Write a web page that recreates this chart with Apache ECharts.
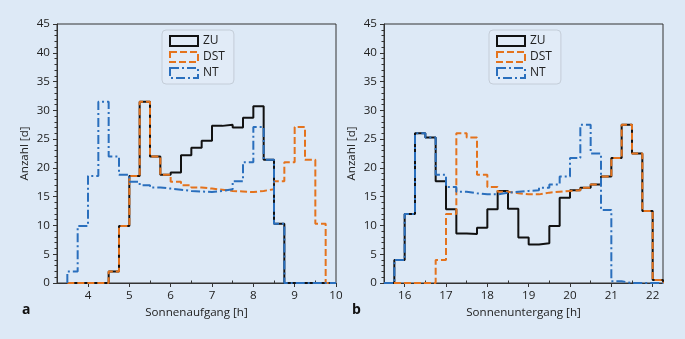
<!DOCTYPE html>
<html>
<head>
<meta charset="utf-8">
<script src="https://cdn.jsdelivr.net/npm/echarts@6/dist/echarts.min.js"></script>
<style>
  html, body { margin: 0; padding: 0; background: #dde9f6; }
  #chart { width: 685px; height: 339px; }
</style>
</head>
<body>
<div id="chart"></div>
<script>
var binWidth = 0.25

// a: Sonnenaufgang, bins from 3.5 h to 10 h
var aufgangStart = 3.5
var aufgangZU  = [0, 0, 0, 0, 2.0, 9.9, 18.6, 31.5, 22.0, 18.8, 19.2, 22.2, 23.5, 24.7, 27.3, 27.5, 27.0, 28.7, 30.7, 21.4, 10.3, 0, 0, 0, 0, 0]
var aufgangDST = [0, 0, 0, 0, 2.0, 9.9, 18.6, 31.5, 22.0, 18.8, 17.6, 17.0, 16.6, 16.4, 16.2, 16.0, 15.9, 15.8, 16.0, 16.3, 17.7, 21.0, 27.1, 21.4, 10.3, 0]
var aufgangNT  = [2.0, 9.9, 18.6, 31.5, 22.0, 18.8, 17.6, 17.0, 16.6, 16.4, 16.2, 16.0, 15.9, 15.8, 16.0, 16.3, 17.7, 21.0, 27.1, 21.4, 10.3, 0, 0, 0, 0, 0]

// b: Sonnenuntergang, bins from 15.5 h to 22.25 h
var untergangStart = 15.5
var untergangZU  = [0, 4.0, 12.0, 26.0, 25.3, 17.7, 12.8, 8.6, 8.5, 9.6, 12.8, 16.0, 12.9, 7.9, 6.7, 6.9, 9.9, 14.8, 16.1, 16.55, 17.1, 18.5, 21.7, 27.5, 22.5, 12.5, 0.5]
var untergangDST = [0, 0, 0, 0, 0, 4.0, 12.0, 26.0, 25.3, 18.8, 16.7, 15.85, 15.6, 15.4, 15.4, 15.7, 15.85, 16.0, 16.1, 16.55, 17.1, 18.5, 21.7, 27.5, 22.5, 12.5, 0.5]
var untergangNT  = [0, 4.0, 12.0, 26.0, 25.3, 18.8, 16.7, 15.85, 15.6, 15.4, 15.4, 15.7, 15.85, 16.0, 16.1, 16.55, 17.1, 18.5, 21.7, 27.5, 22.5, 12.7, 0.3, 0, 0, 0, 0]

var aufgangTicks = [4, 5, 6, 7, 8, 9, 10]
var aufgangMinor = [3.5, 4.5, 5.5, 6.5, 7.5, 8.5, 9.5]
var untergangTicks = [16, 17, 18, 19, 20, 21, 22]
var untergangMinor = [15.5, 16.5, 17.5, 18.5, 19.5, 20.5, 21.5]

var names = ['ZU', 'DST', 'NT']
var colors = { ZU: '#111111', DST: '#e4731d', NT: '#2a6fbd' }
var dashes = { ZU: 'solid', DST: [7, 3], NT: [9, 3, 2, 3] }

var font = 'Open Sans'
var axisColor = '#333'
var labelSize = 11.6

// outline of a step histogram: up at the first edge, down after the last bin
function stepPoints(start, counts) {
    var pts = [[start, 0]]
    counts.forEach(function (c, i) {
        pts.push([start + i * binWidth, c])
    })
    pts.push([start + counts.length * binWidth, 0])
    return pts
}

function histSeries(name, start, counts, axisIndex) {
    return {
        name: name,
        type: 'line',
        step: 'end',
        xAxisIndex: axisIndex * 2,
        yAxisIndex: axisIndex,
        showSymbol: false,
        symbol: 'none',
        silent: true,
        z: 2 + names.indexOf(name),
        itemStyle: { color: colors[name] },
        lineStyle: { color: colors[name], width: 2, type: dashes[name] },
        data: stepPoints(start, counts)
    }
}

function xAxes(gridIndex, min, max, ticks, minor, title) {
    return [{
        gridIndex: gridIndex,
        type: 'value',
        min: min,
        max: max,
        name: title,
        nameLocation: 'middle',
        nameGap: 23,
        nameTextStyle: { fontFamily: font, fontSize: labelSize, color: '#222' },
        splitLine: { show: false },
        axisLine: { show: true, onZero: false, lineStyle: { color: axisColor, width: 1 } },
        axisTick: { show: true, length: 4, customValues: ticks, lineStyle: { color: axisColor } },
        axisLabel: { customValues: ticks, margin: 7, fontFamily: font, fontSize: labelSize, color: '#222' }
    }, {
        gridIndex: gridIndex,
        type: 'value',
        min: min,
        max: max,
        splitLine: { show: false },
        axisLine: { show: false },
        axisTick: { show: true, length: 2.5, customValues: minor, lineStyle: { color: axisColor } },
        axisLabel: { show: false }
    }]
}

function yAxis(gridIndex) {
    return {
        gridIndex: gridIndex,
        type: 'value',
        min: 0,
        max: 45,
        interval: 5,
        name: 'Anzahl [d]',
        nameLocation: 'middle',
        nameGap: 26,
        nameTextStyle: { fontFamily: font, fontSize: labelSize, color: '#222' },
        splitLine: { show: false },
        axisLine: { show: true, lineStyle: { color: axisColor, width: 1 } },
        axisTick: { show: true, length: 4, lineStyle: { color: axisColor } },
        minorTick: { show: true, splitNumber: 5, length: 2.5, lineStyle: { color: axisColor } },
        axisLabel: { margin: 7, fontFamily: font, fontSize: labelSize, color: '#222' }
    }
}

function legendFor(left) {
    return {
        left: left,
        top: 30,
        orient: 'vertical',
        itemWidth: 28,
        itemHeight: 10,
        itemGap: 4,
        padding: [5, 9, 5, 7],
        borderColor: '#c4cdd8',
        borderWidth: 1,
        borderRadius: 4,
        backgroundColor: 'rgba(255,255,255,0.12)',
        textStyle: { fontFamily: font, fontSize: 12, color: '#222' },
        selectedMode: false,
        data: names.map(function (n) {
            return {
                name: n,
                icon: 'rect',
                itemStyle: { color: 'transparent', borderColor: colors[n], borderWidth: 2, borderType: dashes[n] }
            }
        })
    }
}

var chart = echarts.init(document.getElementById('chart'))

var option = {
    animation: false,
    backgroundColor: '#dde9f6',
    grid: [
        { left: 57, top: 24, width: 279, height: 259, show: true, borderColor: axisColor, borderWidth: 1, backgroundColor: 'transparent' },
        { left: 384, top: 24, width: 279, height: 259, show: true, borderColor: axisColor, borderWidth: 1, backgroundColor: 'transparent' }
    ],
    legend: [legendFor(162), legendFor(489)],
    xAxis: xAxes(0, 3.25, 10, aufgangTicks, aufgangMinor, 'Sonnenaufgang [h]')
        .concat(xAxes(1, 15.5, 22.25, untergangTicks, untergangMinor, 'Sonnenuntergang [h]')),
    yAxis: [yAxis(0), yAxis(1)],
    graphic: [
        { type: 'text', left: 22, top: 303, style: { text: 'a', fontFamily: font, fontWeight: 'bold', fontSize: 14, fill: '#111' } },
        { type: 'text', left: 352, top: 303, style: { text: 'b', fontFamily: font, fontWeight: 'bold', fontSize: 14, fill: '#111' } }
    ],
    series: [
        histSeries('ZU', aufgangStart, aufgangZU, 0),
        histSeries('DST', aufgangStart, aufgangDST, 0),
        histSeries('NT', aufgangStart, aufgangNT, 0),
        histSeries('ZU', untergangStart, untergangZU, 1),
        histSeries('DST', untergangStart, untergangDST, 1),
        histSeries('NT', untergangStart, untergangNT, 1)
    ]
}

chart.setOption(option)
</script>
</body>
</html>
